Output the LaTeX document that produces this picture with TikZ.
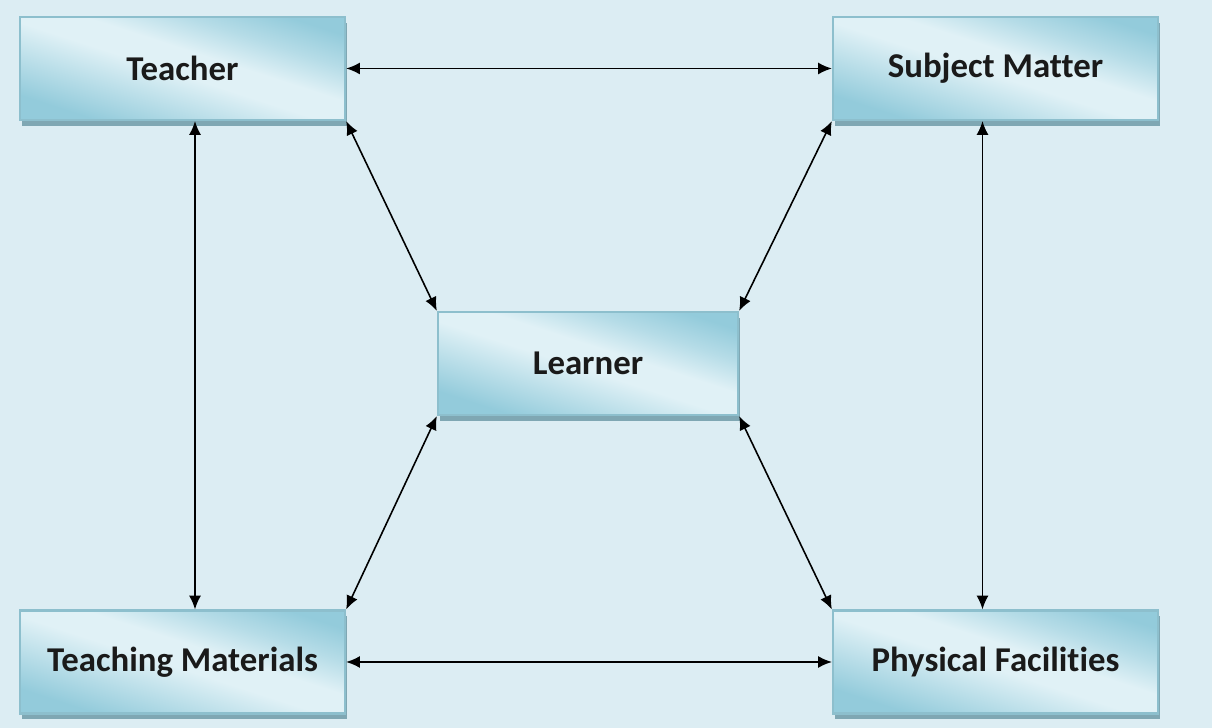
\documentclass[tikz,border=0pt]{standalone}
\usepackage{fontspec}
\setmainfont{Carlito}[Ligatures=NoCommon]
\usetikzlibrary{arrows.meta,shadows}

\definecolor{bgblue}{HTML}{DCEDF3}
\definecolor{boxdark}{HTML}{93CBDB}
\definecolor{boxlight}{HTML}{E0F1F6}
\definecolor{boxline}{HTML}{8DBFCD}
\definecolor{boxshadow}{HTML}{7FA7B3}
\definecolor{labelcol}{HTML}{1A1A1A}

\pgfdeclarehorizontalshading{boxshade}{100bp}{color(0bp)=(boxdark); color(26bp)=(boxdark); color(36bp)=(boxdark!55!boxlight); color(48bp)=(boxlight); color(56bp)=(boxlight); color(66bp)=(boxdark!55!boxlight); color(76bp)=(boxdark); color(100bp)=(boxdark)}

\tikzset{
  box/.style={draw=boxline, line width=0.6pt, shading=boxshade, shading angle=72,
    minimum width=3.25cm, minimum height=1.03cm, inner sep=0pt,
    font=\fontsize{9.9}{11}\selectfont\bfseries, text=labelcol,
    drop shadow={shadow xshift=0.6pt, shadow yshift=-1.6pt, fill=boxshadow, opacity=1}},
  link/.style={{Latex[length=3.9pt,width=3.4pt]}-{Latex[length=3.9pt,width=3.4pt]}, line width=0.45pt, black}
}

\begin{document}
\begin{tikzpicture}[x=0.01cm, y=-0.01cm]
\fill [bgblue] (0, 0) rectangle (1212, 728);

\node [box] (teacher) at (182.5, 68.5) {Teacher};
\node [box] (subject) at (995.5, 68.5) {Subject Matter};
\node [box, minimum width=3cm] (learner) at (588, 363.5) {Learner};
\node [box] (materials) at (182.5, 662) {Teaching Materials};
\node [box] (facilities) at (995.5, 662) {Physical Facilities};

% outer ring
\draw [link] (teacher.east) -- (subject.west);
\draw [link] (materials.east) -- (facilities.west);
\draw [link] ([xshift=0.125cm]teacher.south) -- ([xshift=0.125cm]materials.north);
\draw [link] ([xshift=-0.13cm]subject.south) -- ([xshift=-0.13cm]facilities.north);

% to and from the learner
\draw [link] (teacher.south east) -- (learner.north west);
\draw [link] (subject.south west) -- (learner.north east);
\draw [link] (materials.north east) -- (learner.south west);
\draw [link] (facilities.north west) -- (learner.south east);
\end{tikzpicture}
\end{document}
